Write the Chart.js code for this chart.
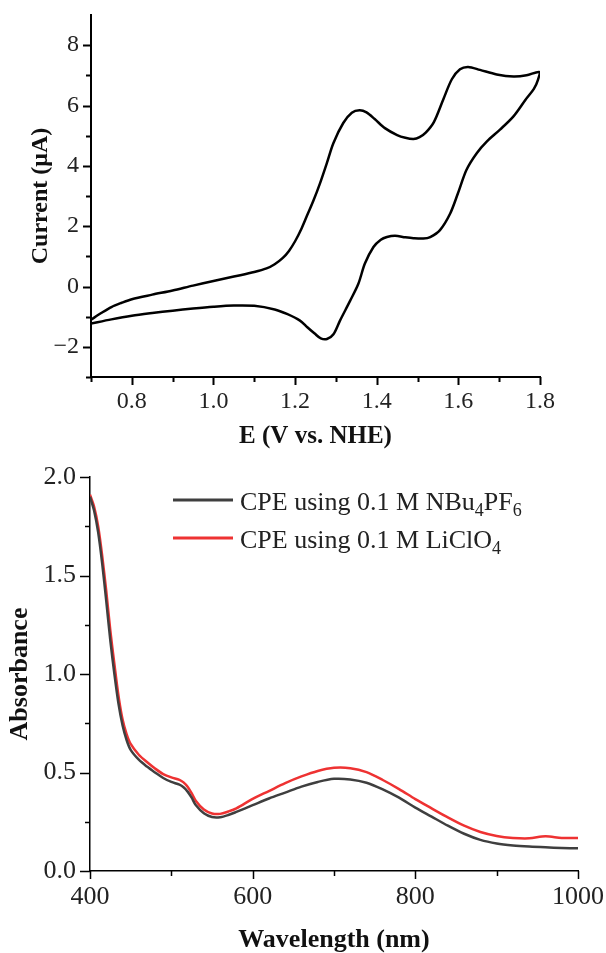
<!DOCTYPE html>
<html>
<head>
<meta charset="utf-8">
<script src="https://cdn.jsdelivr.net/npm/chart.js@4"></script>
<style>
  body { margin: 0; background: #fff; width: 606px; height: 953px; overflow: hidden; position: relative; }
  #cvChart { position: absolute; left: 0; top: 0; }
  #uvChart { position: absolute; left: 0; top: 455px; }
</style>
</head>
<body>
<canvas id="cvChart" width="606" height="455"></canvas>
<canvas id="uvChart" width="606" height="498"></canvas>
<script>
// cyclic voltammogram: forward scan then reverse scan
const cvPotential = [
  0.700, 0.725, 0.750, 0.775, 0.800, 0.850, 0.900, 0.950, 1.000, 1.050, 1.100, 1.130, 1.150, 1.170,
  1.185, 1.200, 1.215, 1.228, 1.245, 1.261, 1.278, 1.294, 1.318, 1.339, 1.358, 1.375, 1.395, 1.420,
  1.450, 1.470, 1.490, 1.505, 1.520, 1.540, 1.563, 1.584, 1.604, 1.624, 1.653, 1.694, 1.735, 1.767, 1.798,
  1.795, 1.785, 1.765, 1.735, 1.702, 1.670, 1.645, 1.620, 1.599, 1.580, 1.555, 1.531, 1.514, 1.490,
  1.470, 1.445, 1.425, 1.410, 1.392, 1.371, 1.355, 1.335, 1.310, 1.294, 1.278, 1.263, 1.248, 1.230,
  1.212, 1.180, 1.150, 1.100, 1.050, 1.000, 0.950, 0.900, 0.850, 0.800, 0.750, 0.700
];
const cvCurrent = [
  -1.10, -0.88, -0.68, -0.54, -0.42, -0.27, -0.13, 0.03, 0.18, 0.33, 0.48, 0.60, 0.74, 0.95,
  1.18, 1.50, 1.90, 2.31, 2.85, 3.42, 4.10, 4.76, 5.42, 5.76, 5.84, 5.77, 5.55, 5.25,
  5.02, 4.93, 4.89, 4.95, 5.10, 5.45, 6.20, 6.87, 7.20, 7.28, 7.18, 7.03, 6.96, 7.00, 7.11,
  6.85, 6.55, 6.20, 5.64, 5.20, 4.81, 4.42, 3.87, 3.09, 2.42, 1.87, 1.64, 1.59, 1.60,
  1.63, 1.68, 1.64, 1.55, 1.31, 0.76, 0.09, -0.47, -1.13, -1.58, -1.74, -1.72, -1.56, -1.35,
  -1.13, -0.91, -0.76, -0.64, -0.63, -0.67, -0.73, -0.80, -0.88, -0.97, -1.09, -1.23
];
const cvXTicks = [0.8, 1.0, 1.2, 1.4, 1.6, 1.8];
const cvXMinor = [0.7, 0.9, 1.1, 1.3, 1.5, 1.7];
const cvYTicks = [-2, 0, 2, 4, 6, 8];
const cvYMinor = [-3, -1, 1, 3, 5, 7];

// UV-vis spectra after CPE
const wavelength = [
  400, 405, 410, 415, 420, 425, 430, 435, 440, 445, 450, 460, 470, 480, 490, 500, 510, 515, 520, 525,
  530, 540, 550, 560, 570, 580, 600, 620, 640, 660, 680, 700, 720, 740, 760, 780, 800, 820, 840, 860,
  880, 900, 920, 940, 960, 980, 1000
];
const absNBu4PF6 = [
  1.90, 1.83, 1.72, 1.56, 1.37, 1.17, 1.00, 0.85, 0.74, 0.665, 0.615, 0.565, 0.530, 0.500, 0.472, 0.452, 0.438, 0.425, 0.403, 0.372,
  0.335, 0.293, 0.274, 0.273, 0.284, 0.300, 0.334, 0.368, 0.398, 0.428, 0.452, 0.468, 0.465, 0.448, 0.414, 0.372, 0.322, 0.276, 0.230, 0.189,
  0.158, 0.140, 0.130, 0.124, 0.120, 0.117, 0.115
];
const absLiClO4 = [
  1.91, 1.85, 1.75, 1.60, 1.42, 1.22, 1.05, 0.89, 0.77, 0.695, 0.645, 0.590, 0.553, 0.520, 0.492, 0.475, 0.463, 0.450, 0.428, 0.395,
  0.357, 0.312, 0.292, 0.290, 0.302, 0.318, 0.366, 0.406, 0.446, 0.480, 0.508, 0.524, 0.522, 0.502, 0.462, 0.416, 0.365, 0.318, 0.272, 0.230,
  0.198, 0.178, 0.168, 0.166, 0.176, 0.168, 0.168
];
const uvLabels = ['CPE using 0.1 M NBu\u2084PF\u2086', 'CPE using 0.1 M LiClO\u2084'];
const uvColors = ['#3f3f3f', '#ee3232'];
const uvXTicks = [400, 600, 800, 1000];
const uvXMinor = [500, 700, 900];
const uvYTicks = [0, 0.5, 1.0, 1.5, 2.0];
const uvYMinor = [0.25, 0.75, 1.25, 1.75];

const serif = '"Liberation Serif", "Times New Roman", serif';

// ticks drawn by hand so minor ones can be shorter
function tickMarks(xMajor, xMinor, yMajor, yMinor, xLen, yLen, minLen, lw) {
  return {
    id: 'tickMarks',
    afterDraw(chart) {
      const ctx = chart.ctx, xs = chart.scales.x, ys = chart.scales.y;
      const area = chart.chartArea;
      ctx.save();
      ctx.strokeStyle = '#000';
      ctx.lineWidth = lw;
      ctx.beginPath();
      xMajor.concat(xMinor).forEach((v, i) => {
        const px = Math.round(xs.getPixelForValue(v)) + 0.5;
        const len = i < xMajor.length ? xLen : minLen;
        ctx.moveTo(px, area.bottom);
        ctx.lineTo(px, area.bottom + len);
      });
      yMajor.concat(yMinor).forEach((v, i) => {
        const py = Math.round(ys.getPixelForValue(v)) + 0.5;
        const len = i < yMajor.length ? yLen : minLen;
        ctx.moveTo(area.left, py);
        ctx.lineTo(area.left - len, py);
      });
      ctx.stroke();
      ctx.restore();
    }
  };
}

// legend with subscript digits
const subLegend = {
  id: 'subLegend',
  afterDraw(chart) {
    const ctx = chart.ctx;
    ctx.save();
    chart.data.datasets.forEach((ds, i) => {
      const y = 45 + i * 38;
      ctx.strokeStyle = ds.borderColor;
      ctx.lineWidth = 3;
      ctx.beginPath();
      ctx.moveTo(173, y);
      ctx.lineTo(233, y);
      ctx.stroke();
      let x = 240;
      ctx.fillStyle = '#222';
      ctx.textBaseline = 'alphabetic';
      for (const ch of ds.label) {
        const code = ch.charCodeAt(0);
        if (code >= 0x2080 && code <= 0x2089) {
          const d = String(code - 0x2080);
          ctx.font = '18px ' + serif;
          ctx.fillText(d, x, y + 16);
          x += ctx.measureText(d).width;
        } else {
          ctx.font = '26px ' + serif;
          ctx.fillText(ch, x, y + 10);
          x += ctx.measureText(ch).width;
        }
      }
    });
    ctx.restore();
  }
};

const noSidePad = s => { s.paddingLeft = 0; s.paddingRight = 0; };
const noEndPad = s => { s.paddingTop = 0; s.paddingBottom = 0; };

new Chart(document.getElementById('cvChart'), {
  type: 'scatter',
  data: {
    datasets: [{
      label: 'CV',
      data: cvPotential.map((e, i) => ({ x: e, y: cvCurrent[i] })),
      showLine: true,
      borderColor: '#000',
      borderWidth: 2.5,
      pointRadius: 0,
      tension: 0.3
    }]
  },
  options: {
    responsive: false,
    devicePixelRatio: 1,
    animation: false,
    layout: { padding: { top: 15, right: 66, left: 0, bottom: 0 } },
    plugins: { legend: { display: false }, tooltip: { enabled: false } },
    scales: {
      x: {
        type: 'linear', min: 0.7, max: 1.8,
        afterBuildTicks: s => { s.ticks = cvXTicks.map(v => ({ value: v })); },
        afterFit: s => { s.height = 78; noSidePad(s); },
        grid: { display: false, drawTicks: false },
        border: { display: true, color: '#000', width: 2 },
        ticks: { color: '#222', padding: 10, maxRotation: 0, font: { family: serif, size: 24 }, callback: v => v.toFixed(1) },
        title: { display: true, text: 'E (V vs. NHE)', color: '#111', padding: { top: 0, bottom: 3 }, font: { family: serif, size: 25, weight: 'bold' } }
      },
      y: {
        type: 'linear', min: -3, max: 9,
        afterBuildTicks: s => { s.ticks = cvYTicks.map(v => ({ value: v })); },
        afterFit: s => { s.width = 91; noEndPad(s); },
        grid: { display: false, drawTicks: false },
        border: { display: true, color: '#000', width: 2 },
        ticks: { color: '#222', padding: 12, font: { family: serif, size: 24 }, callback: v => (v < 0 ? '\u2212' + Math.abs(v) : String(v)) },
        title: { display: true, text: 'Current (\u03bcA)', color: '#111', padding: { top: 26, bottom: 0 }, font: { family: serif, size: 24, weight: 'bold' } }
      }
    }
  },
  plugins: [tickMarks(cvXTicks, cvXMinor, cvYTicks, cvYMinor, 8, 8, 5, 2)]
});

new Chart(document.getElementById('uvChart'), {
  type: 'line',
  data: {
    datasets: [absNBu4PF6, absLiClO4].map((vals, i) => ({
      label: uvLabels[i],
      data: wavelength.map((w, j) => ({ x: w, y: vals[j] })),
      borderColor: uvColors[i],
      borderWidth: 2.5,
      pointRadius: 0,
      tension: 0.3
    }))
  },
  options: {
    responsive: false,
    devicePixelRatio: 1,
    animation: false,
    layout: { padding: { top: 22, right: 28, left: 0, bottom: 0 } },
    plugins: { legend: { display: false }, tooltip: { enabled: false } },
    scales: {
      x: {
        type: 'linear', min: 400, max: 1000,
        afterBuildTicks: s => { s.ticks = uvXTicks.map(v => ({ value: v })); },
        afterFit: s => { s.height = 82; noSidePad(s); },
        grid: { display: false, drawTicks: false },
        border: { display: true, color: '#000', width: 1.5 },
        ticks: { color: '#222', padding: 11, maxRotation: 0, font: { family: serif, size: 26 }, callback: v => String(v) },
        title: { display: true, text: 'Wavelength (nm)', color: '#111', padding: { top: 0, bottom: -3 }, font: { family: serif, size: 26, weight: 'bold' } }
      },
      y: {
        type: 'linear', min: 0, max: 2,
        afterBuildTicks: s => { s.ticks = uvYTicks.map(v => ({ value: v })); },
        afterFit: s => { s.width = 90; noEndPad(s); },
        grid: { display: false, drawTicks: false },
        border: { display: true, color: '#000', width: 1.5 },
        ticks: { color: '#222', padding: 14, font: { family: serif, size: 26 }, callback: v => v.toFixed(1) },
        title: { display: true, text: 'Absorbance', color: '#111', padding: { top: 5, bottom: 0 }, font: { family: serif, size: 26, weight: 'bold' } }
      }
    }
  },
  plugins: [tickMarks(uvXTicks, uvXMinor, uvYTicks, uvYMinor, 8, 10, 5, 1.5), subLegend]
});
</script>
</body>
</html>
